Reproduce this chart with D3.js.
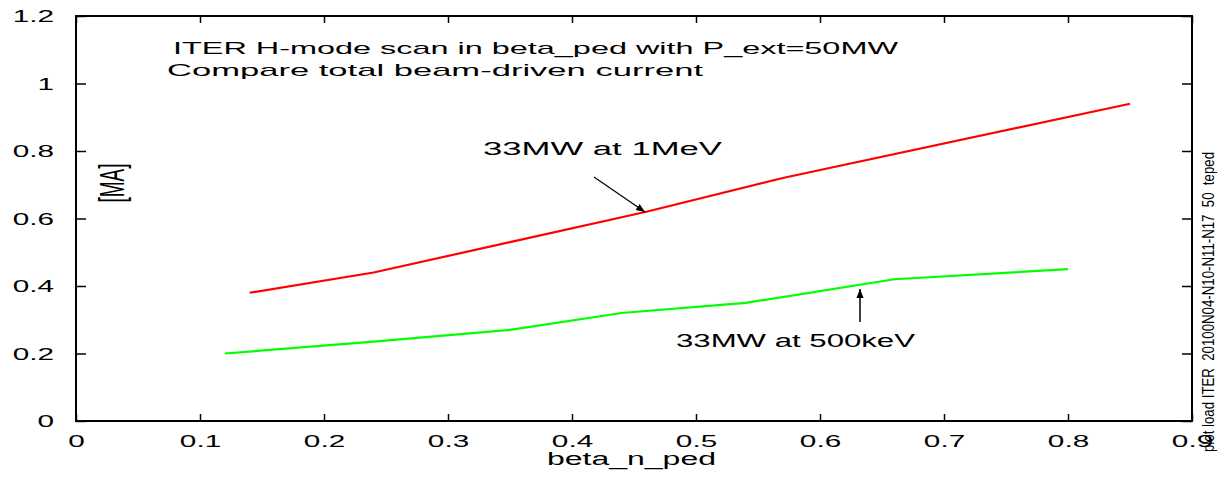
<!DOCTYPE html>
<html><head><meta charset="utf-8">
<script src="https://cdn.jsdelivr.net/npm/d3@7"></script>
<style>body{margin:0;background:#fff}svg{display:block;font-family:"Liberation Sans",Arial,sans-serif}</style>
</head><body><svg id="c" width="1218" height="481"></svg>
<script>
const redX = [0.14, 0.24, 0.35, 0.46, 0.57, 0.85];
const redY = [0.38, 0.44, 0.53, 0.62, 0.72, 0.94];
const greenX = [0.12, 0.24, 0.35, 0.44, 0.54, 0.66, 0.80];
const greenY = [0.20, 0.235, 0.27, 0.32, 0.35, 0.42, 0.45];
const xTicks = [0, 0.1, 0.2, 0.3, 0.4, 0.5, 0.6, 0.7, 0.8, 0.9];
const yTicks = [0, 0.2, 0.4, 0.6, 0.8, 1, 1.2];

const svg = d3.select("#c");
const L = 76, R = 1192, T = 16, B = 421;
const x = d3.scaleLinear().domain([0, 0.9]).range([L, R]);
const y = d3.scaleLinear().domain([0, 1.2]).range([B, T]);
const fmt = d => d === 0 ? "0" : String(+d.toFixed(1));
const SX = 1.75;

const gx = svg.append("g").attr("transform", `translate(0,${B})`)
  .call(d3.axisBottom(x).tickValues(xTicks).tickSizeInner(-7).tickSizeOuter(0).tickFormat(fmt));
const gxt = svg.append("g").attr("transform", `translate(0,${T})`)
  .call(d3.axisTop(x).tickValues(xTicks).tickSizeInner(-7).tickSizeOuter(0).tickFormat(""));
const gy = svg.append("g").attr("transform", `translate(${L},0)`)
  .call(d3.axisLeft(y).tickValues(yTicks).tickSizeInner(-10).tickSizeOuter(0).tickFormat(fmt));
const gyr = svg.append("g").attr("transform", `translate(${R},0)`)
  .call(d3.axisRight(y).tickValues(yTicks).tickSizeInner(-10).tickSizeOuter(0).tickFormat(""));
[gx, gxt, gy, gyr].forEach(g => {
  g.select(".domain").remove();
  g.selectAll(".tick line").attr("stroke", "#000").attr("stroke-width", 1.5);
  g.selectAll("text").attr("font-size", 17).attr("fill", "#000").attr("font-family", "Liberation Sans, Arial, sans-serif");
});
gx.selectAll(".tick text").attr("y", null).attr("dy", null)
  .attr("transform", `translate(0,26) scale(${SX},1)`);
gy.selectAll(".tick text").attr("x", null).attr("dy", "0.35em")
  .attr("transform", `translate(-22,0) scale(${SX},1)`);

svg.append("rect").attr("x", L).attr("y", T).attr("width", R - L).attr("height", B - T)
  .attr("fill", "none").attr("stroke", "#000").attr("stroke-width", 2);

const line = d3.line().x(d => x(d[0])).y(d => y(d[1]));
svg.append("path").datum(redX.map((v, i) => [v, redY[i]])).attr("d", line)
  .attr("fill", "none").attr("stroke", "#ff0000").attr("stroke-width", 2.2);
svg.append("path").datum(greenX.map((v, i) => [v, greenY[i]])).attr("d", line)
  .attr("fill", "none").attr("stroke", "#00ff00").attr("stroke-width", 2.2);

function htext(str, x0, yb, size, len, anchor) {
  return svg.append("text").attr("x", x0).attr("y", yb).attr("font-size", size)
    .attr("text-anchor", anchor || "start")
    .attr("textLength", len).attr("lengthAdjust", "spacingAndGlyphs").text(str);
}
htext("ITER H-mode scan in beta_ped with P_ext=50MW", 173, 54, 17, 725);
htext("Compare total beam-driven current", 167, 76, 17, 536);
htext("33MW at 1MeV", 483, 155, 18, 239);
htext("33MW at 500keV", 676, 347, 18, 239);
htext("beta_n_ped", 547, 465, 18, 169);

svg.append("text").attr("transform", "translate(124,183) rotate(-90) scale(1,1.8)")
  .attr("text-anchor", "middle").attr("font-size", 19).text("[MA]");
svg.append("text").attr("transform", "translate(1214,302) rotate(-90) scale(1,1.2)")
  .attr("text-anchor", "middle").attr("font-size", 13).style("white-space", "pre")
  .attr("textLength", 300).attr("lengthAdjust", "spacingAndGlyphs")
  .text("plot load ITER  20100N04-N10-N11-N17  50  teped");

const defs = svg.append("defs");
defs.append("marker").attr("id", "ah").attr("viewBox", "0 0 10 10").attr("refX", 10).attr("refY", 5)
  .attr("markerWidth", 9).attr("markerHeight", 9).attr("markerUnits", "userSpaceOnUse").attr("orient", "auto")
  .append("path").attr("d", "M0,1 L10,5 L0,9 Z").attr("fill", "#000");
svg.append("line").attr("x1", 594).attr("y1", 177).attr("x2", 645).attr("y2", 212)
  .attr("stroke", "#000").attr("stroke-width", 1.2).attr("marker-end", "url(#ah)");
svg.append("line").attr("x1", 860).attr("y1", 322).attr("x2", 860).attr("y2", 289)
  .attr("stroke", "#000").attr("stroke-width", 1.5).attr("marker-end", "url(#ah)");
</script></body></html>
